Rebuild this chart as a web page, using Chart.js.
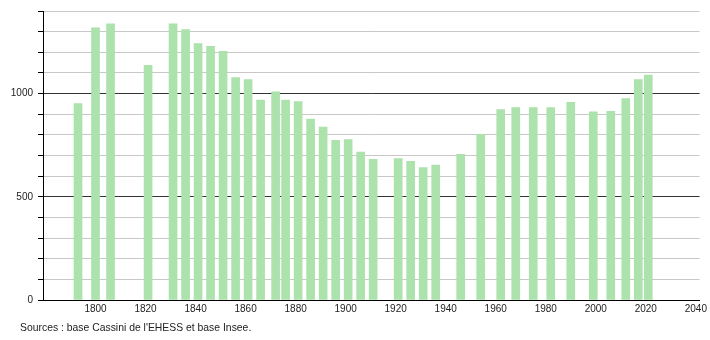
<!DOCTYPE html>
<html>
<head>
<meta charset="utf-8">
<script src="https://cdn.jsdelivr.net/npm/chart.js@4/dist/chart.umd.min.js"></script>
<style>
    html, body { margin: 0; padding: 0; background: #fff; }
    #wrap { position: relative; width: 710px; height: 340px; }
    #source {
        position: absolute; left: 20px; top: 322px;
        font-family: 'Liberation Sans', Arial, sans-serif;
        font-size: 10.4px; color: #222; white-space: nowrap;
    }
</style>
</head>
<body>
<div id="wrap">
    <canvas id="chart" width="710" height="340"></canvas>
    <div id="source"></div>
</div>
<script>
// Population by census year
const years = [1793, 1800, 1806, 1821, 1831, 1836, 1841, 1846, 1851, 1856, 1861, 1866,
    1872, 1876, 1881, 1886, 1891, 1896, 1901, 1906, 1911, 1921, 1926, 1931, 1936,
    1946, 1954, 1962, 1968, 1975, 1982, 1990, 1999, 2006, 2012, 2017, 2021];
const population = [951, 1319, 1338, 1137, 1338, 1310, 1242, 1229, 1205, 1077, 1068, 968,
    1009, 969, 961, 876, 838, 774, 777, 717, 682, 685, 672, 641, 653,
    706, 802, 922, 932, 932, 932, 958, 911, 914, 976, 1068, 1089];

// Axis labels
const xTickValues = [1800, 1820, 1840, 1860, 1880, 1900, 1920, 1940, 1960, 1980, 2000, 2020, 2040];
const yTickLabels = [0, 500, 1000];
const sourceText = "Sources : base Cassini de l'EHESS et base Insee.";

document.getElementById('source').textContent = sourceText;

const labelFont = { family: "'Liberation Sans', Arial, sans-serif", size: 10 };

new Chart(document.getElementById('chart'), {
    type: 'bar',
    data: {
        datasets: [{
            data: years.map((year, i) => ({ x: year, y: population[i] })),
            backgroundColor: '#ace2ac',
            borderWidth: 0,
            barThickness: 8
        }]
    },
    options: {
        responsive: false,
        animation: false,
        layout: { padding: { top: 10, right: 9, left: 0, bottom: 0 } },
        plugins: {
            legend: { display: false },
            tooltip: { enabled: false }
        },
        scales: {
            x: {
                type: 'linear',
                min: 1779,
                max: 2041.5,
                offset: false,
                grid: { display: false, drawTicks: false, offset: false },
                border: { color: '#000', width: 1 },
                ticks: {
                    color: '#222',
                    font: labelFont,
                    padding: 3,
                    maxRotation: 0,
                    autoSkip: false,
                    callback: v => String(v)
                },
                afterBuildTicks: scale => {
                    scale.ticks = xTickValues.map(v => ({ value: v }));
                },
                afterFit: scale => { scale.height = 40; }
            },
            y: {
                min: 0,
                max: 1400,
                grid: {
                    color: ctx => (ctx.tick && ctx.tick.value % 500 === 0) ? '#333' : '#c8c8c8',
                    tickColor: '#000',
                    tickLength: 5
                },
                border: { color: '#000', width: 1 },
                ticks: {
                    stepSize: 100,
                    color: '#222',
                    font: labelFont,
                    padding: 5,
                    callback: v => yTickLabels.includes(v) ? String(v) : ''
                },
                afterFit: scale => { scale.width = 43; }
            }
        }
    }
});
</script>
</body>
</html>
